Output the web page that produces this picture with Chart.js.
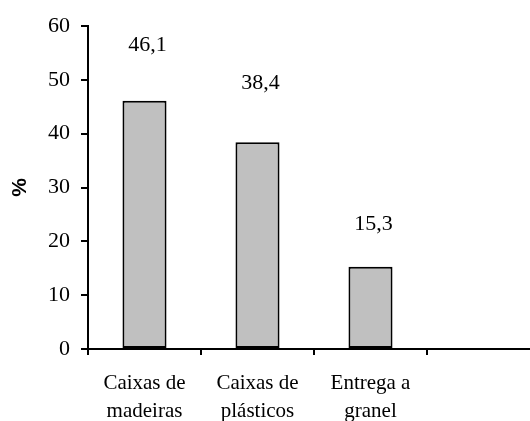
<!DOCTYPE html>
<html>
<head>
<meta charset="utf-8">
<script src="https://cdn.jsdelivr.net/npm/chart.js@4.4.0/dist/chart.umd.min.js"></script>
<style>
  html, body { margin: 0; padding: 0; background: #fff; overflow: hidden; }
  #wrap { position: relative; width: 542px; height: 421px; }
</style>
</head>
<body>
<div id="wrap"><canvas id="chart"></canvas></div>
<script>
// categories and values (last slot is empty)
const categories = [["Caixas de", "madeiras"], ["Caixas de", "plásticos"], ["Entrega a", "granel"], ""];
const values = [46.1, 38.4, 15.3, null];
const valueLabels = ["46,1", "38,4", "15,3", ""];
const yTicks = [0, 10, 20, 30, 40, 50, 60];

const serif = "'Liberation Serif', 'Times New Roman', serif";
// label distance above each bar, px
const labelGap = [56, 59, 42, 0];

const valueLabelPlugin = {
    id: 'valueLabels',
    afterDatasetsDraw(chart) {
        const ctx = chart.ctx;
        const meta = chart.getDatasetMeta(0);
        ctx.save();
        ctx.font = `22px ${serif}`;
        ctx.fillStyle = '#000';
        ctx.textAlign = 'center';
        ctx.textBaseline = 'middle';
        meta.data.forEach((bar, i) => {
            if (values[i] == null) return;
            ctx.fillText(valueLabels[i], bar.x + 3, bar.y - labelGap[i]);
        });
        ctx.restore();
    }
};

new Chart(document.getElementById('chart'), {
    type: 'bar',
    data: {
        labels: categories,
        datasets: [{
            data: values,
            backgroundColor: '#c0c0c0',
            borderColor: '#000',
            borderWidth: 2,
            borderSkipped: false,
            barPercentage: 0.39,
            categoryPercentage: 1
        }]
    },
    options: {
        responsive: true,
        maintainAspectRatio: false,
        animation: false,
        layout: { padding: { top: 26, left: 0, right: 2, bottom: 0 } },
        plugins: { legend: { display: false }, tooltip: { enabled: false } },
        scales: {
            x: {
                afterFit: (s) => { s.height = 72; },
                grid: { drawOnChartArea: false, drawTicks: true, tickLength: 6, tickColor: '#000', lineWidth: 2, offset: true },
                border: { color: '#000', width: 2 },
                ticks: { color: '#000', font: { family: serif, size: 21, lineHeight: 1.35 }, padding: 14, maxRotation: 0, autoSkip: false }
            },
            y: {
                min: 0, max: 60,
                afterFit: (s) => { s.width = 88; },
                afterBuildTicks: (s) => { s.ticks = yTicks.map(v => ({ value: v })); },
                grid: { drawOnChartArea: false, drawTicks: true, tickLength: 7, tickColor: '#000', lineWidth: 2 },
                border: { color: '#000', width: 2 },
                ticks: { color: '#000', font: { family: serif, size: 22 }, padding: 11 },
                title: {
                    display: true, text: '%', color: '#000',
                    font: { family: "'Liberation Sans', Arial, sans-serif", size: 21, weight: 'bold' },
                    padding: { top: 8, bottom: 0 }
                }
            }
        }
    },
    plugins: [valueLabelPlugin]
});
</script>
</body>
</html>
